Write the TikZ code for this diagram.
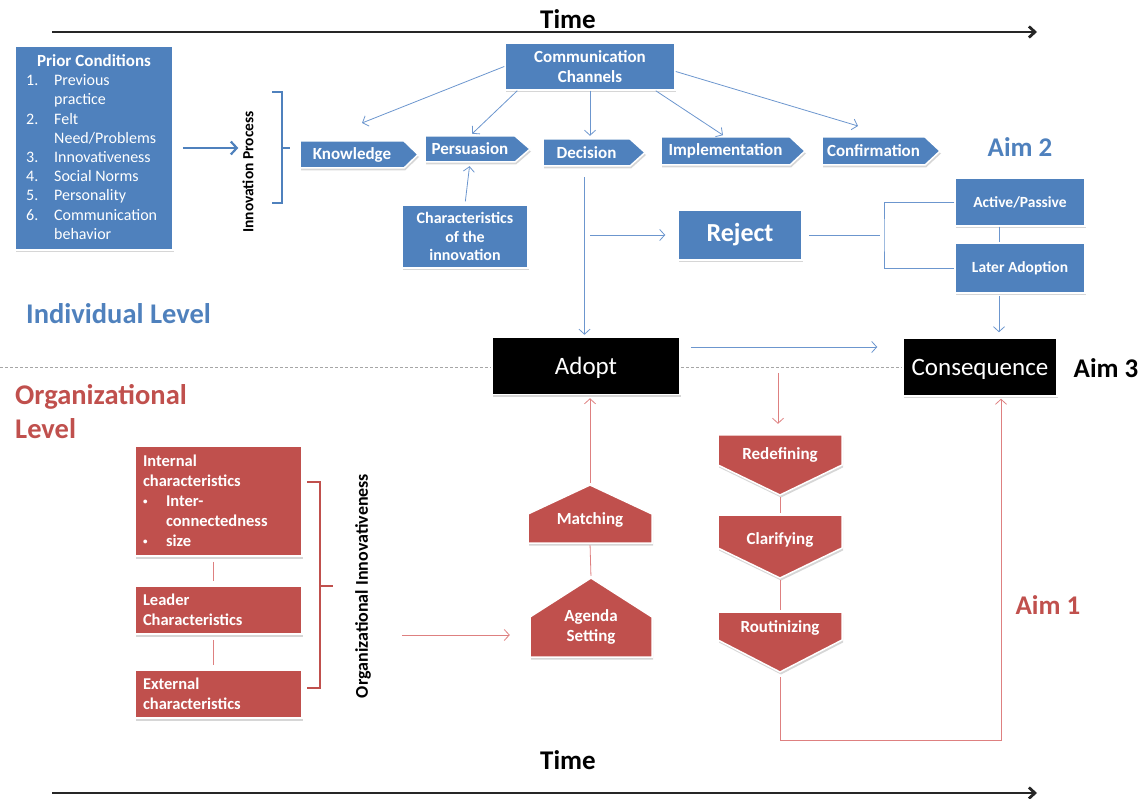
\documentclass[tikz,border=0pt]{standalone}
\usepackage{fontspec}
\setmainfont{Carlito}
\usetikzlibrary{arrows.meta,shadows,calc}
\definecolor{ablue}{RGB}{79,129,189}
\definecolor{ared}{RGB}{192,80,77}
\definecolor{lblue}{RGB}{108,150,206}
\definecolor{lred}{RGB}{222,128,128}
\newcommand\myfs[2]{\fontsize{#1}{#2}\selectfont}
\newcommand\smbul{\makebox[23pt][l]{\raisebox{2.5pt}{\myfs{9}{10}•}}}
% chevron: name, x1, x2 (body end), xtip, ytop, ybot, text
\newcommand\chevron[7]{%
  \path[bshape] (#2,#5) -- (#3,#5) -- (#4,{(#5+#6)/2}) -- (#3,#6) -- (#2,#6) -- cycle;
  \node[shapetxt, minimum width={#3-#2}, minimum height={#6-#5}] (#1) at ({(#2+#3)/2},{(#5+#6)/2}) {#7};
}
% house (pointing up): name, x1, x2, ytip, yshoulder, ybottom, text, texty
\newcommand\houseup[8]{%
  \path[rshape] (#2,#6) -- (#2,#5) -- ({(#2+#3)/2},#4) -- (#3,#5) -- (#3,#6) -- cycle;
  \node[minimum width={#3-#2}, minimum height={#6-#4}, inner sep=0pt] (#1) at ({(#2+#3)/2},{(#4+#6)/2}) {};
  \node[shapetxt] (#1T) at ({(#2+#3)/2},#8) {#7};
}
% house (pointing down): name, x1, x2, ytop, yshoulder, ytip, text, texty
\newcommand\housedown[8]{%
  \path[rshape] (#2,#4) -- (#3,#4) -- (#3,#5) -- ({(#2+#3)/2},#6) -- (#2,#5) -- cycle;
  \node[minimum width={#3-#2}, minimum height={#6-#4}, inner sep=0pt] (#1) at ({(#2+#3)/2},{(#4+#6)/2}) {};
  \node[shapetxt] (#1T) at ({(#2+#3)/2},#8) {#7};
}
\begin{document}
\begin{tikzpicture}[x=1pt,y=-1pt,
  shad/.style={drop shadow={shadow xshift=1pt,shadow yshift=-2.5pt,opacity=0.16,fill=black}},
  bluebox/.style={shad,fill=ablue,draw=white,line width=1.5pt,text=white,font=\bfseries\myfs{16.5}{19.5},align=center,inner sep=0pt},
  redbox/.style={shad,fill=ared,draw=white,line width=1.5pt,text=white,font=\bfseries\myfs{16.5}{20},align=left,inner xsep=8pt,inner ysep=0pt,text width=151pt},
  blackbox/.style={shad,fill=black,draw=white,line width=1.5pt,text=white,font=\myfs{25}{30},inner sep=0pt,text height=18pt,text depth=0pt},
  bshape/.style={shad,fill=ablue,draw=white,line width=1.5pt},
  rshape/.style={shad,fill=ared,draw=white,line width=1.5pt},
  shapetxt/.style={text=white,font=\bfseries\myfs{17}{20},align=center,inner sep=0pt},
  barrow/.style={draw=lblue,line width=0.8pt,-{Straight Barb[length=5pt,width=11pt]}},
  bline/.style={draw=lblue,line width=0.8pt},
  rarrow/.style={draw=lred,line width=0.8pt,-{Straight Barb[length=5pt,width=11pt]}},
  rline/.style={draw=lred,line width=0.8pt},
  timearrow/.style={draw=black!85,line width=2.8pt,-{Straight Barb[length=6pt,width=11pt]}},
  bigtxt/.style={font=\bfseries\myfs{27}{34},inner sep=0pt},
  dashline/.style={draw=gray!70,line width=0.8pt,dash pattern=on 3pt off 2pt},
]
\useasboundingbox (0,0) rectangle (1141,799);

% ---- time axes ----
\node[bigtxt] (time1) at (568,19) {Time};
\coordinate (t1s) at (52,32);
\coordinate (t1e) at (1037,32);
\draw[timearrow] (t1s) -- (t1e);
\node[bigtxt] (time2) at (568,760) {Time};
\coordinate (t2s) at (52,793);
\coordinate (t2e) at (1037,793);
\draw[timearrow] (t2s) -- (t2e);

% ---- prior conditions ----
\node[bluebox, minimum width=158, minimum height=204] (prior) at (94,148) {};
\node[text=white, font=\bfseries\myfs{17}{20}, inner sep=0pt] (priorT) at (94,61) {Prior Conditions};
\node[anchor=north west, text=white, align=left, inner sep=0pt, font=\myfs{16}{19.2}] (priorL) at (26,74.5)
{\makebox[28pt][l]{1.}Previous\\\hspace*{28pt}practice\\
 \makebox[28pt][l]{2.}Felt\\\hspace*{28pt}Need/Problems\\
 \makebox[28pt][l]{3.}Innovativeness\\
 \makebox[28pt][l]{4.}Social Norms\\
 \makebox[28pt][l]{5.}Personality\\
 \makebox[28pt][l]{6.}Communication\\\hspace*{28pt}behavior};

\node[rotate=90, font=\bfseries\myfs{15.5}{18}, inner sep=1pt] (ip) at (248,172) {Innovation Process};
\draw[draw=ablue, line width=2.2pt, -{Straight Barb[length=6pt,width=13pt]}, shorten <=9pt, shorten >=3pt]
  (prior.east) -- (prior.east -| ip.north);
\draw[draw=ablue, line width=2pt] (272,92) -- (282,92) -- (282,203) -- (272,203);
\draw[draw=ablue, line width=2pt] (282,148) -- (290,148);

% ---- communication channels and stages ----
\node[bluebox, font=\bfseries\myfs{17}{20}, minimum width=170, minimum height=47] (comm) at (590,66.5) {Communication\\Channels};
\chevron{know}{300}{404}{418}{141}{168}{Knowledge}
\chevron{pers}{425}{515}{530}{136}{162}{Persuasion}
\chevron{dec}{543}{630}{645}{139}{166}{Decision}
\chevron{impl}{661}{790}{805}{137}{165}{Implementation}
\chevron{conf}{822}{925}{940}{137}{165}{Confirmation}

\coordinate (kIn) at (362,123);
\coordinate (cIn) at (858,126);
\draw[barrow] (comm.west) -- (kIn);
\draw[barrow, shorten >=3pt] ([xshift=13pt]comm.south west) -- (pers.north);
\draw[barrow, shorten >=3pt] (comm.south) -- (comm.south |- dec.north);
\draw[barrow, shorten >=3pt] ([xshift=-20pt]comm.south east) -- (impl.north);
\draw[barrow] ([yshift=-5pt]comm.east) -- (cIn);

\node[bluebox, minimum width=126, minimum height=63, font=\bfseries\myfs{16}{18.5}] (chars) at (465,236.5) {Characteristics\\of the\\innovation};
\draw[barrow, shorten <=3pt, shorten >=4pt] (chars.north) -- (pers.south);

% ---- reject branch ----
\node[bluebox, minimum width=124, minimum height=50, font=\bfseries\myfs{26}{30}] (reject) at (740,235) {Reject};
\coordinate (rejFrom) at (590,235);
\draw[barrow, shorten >=12pt] (rejFrom) -- (reject.west);
\node[bluebox, minimum width=130, minimum height=48, font=\bfseries\myfs{15.5}{18}] (active) at (1020,202) {Active/Passive};
\node[bluebox, minimum width=130, minimum height=50, font=\bfseries\myfs{15.5}{18}] (later) at (1020,268) {Later Adoption};
\coordinate (rbr) at (884,235);
\draw[bline, shorten <=6pt] (reject.east) -- ([xshift=-4pt]rbr);
\draw[bline] (active.west) -| (rbr) |- (later.west);
\draw[bline] ([xshift=-21pt]active.south) -- ([xshift=-21pt]later.north);

\node[text=ablue, bigtxt] (aim2) at (1020,147) {Aim 2};
\node[text=ablue, font=\bfseries\myfs{28.5}{34}, inner sep=0pt] (indiv) at (118.5,314) {Individual Level};

% ---- adopt / consequence ----
\node[blackbox, minimum width=188, minimum height=57] (adopt) at (586,366) {Adopt};
\node[blackbox, minimum width=154, minimum height=58] (cons) at (980,367) {Consequence};
\node[bigtxt] (aim3) at (1106,368) {Aim 3};

\draw[barrow, shorten <=11pt, shorten >=2pt] ([xshift=-2pt]dec.south) -- ([xshift=-2pt]dec.south |- adopt.north);
\draw[barrow, shorten <=2pt, shorten >=5pt] ([xshift=-21pt]later.south) -- ([xshift=-21pt]later.south |- cons.north);
\coordinate (ac) at (0,347);
\draw[barrow, shorten <=10pt, shorten >=25pt] (adopt.east |- ac) -- (cons.west |- ac);

\coordinate (dl0) at (0,367);
\draw[dashline] (dl0) -- (adopt.west |- dl0);
\draw[dashline] (adopt.east |- dl0) -- (cons.west |- dl0);

% ---- organizational level ----
\node[text=ared, font=\bfseries\myfs{28.5}{34}, align=left, inner sep=0pt, anchor=west] (orgl) at (15,412) {Organizational\\Level};

\node[redbox, minimum width=167, minimum height=110] (internal) at (218.5,501)
{Internal\\characteristics\\\smbul Inter-\\\hspace*{23pt}connectedness\\\smbul size};
\node[redbox, minimum width=167, minimum height=48] (leader) at (218.5,610) {Leader\\Characteristics};
\node[redbox, minimum width=167, minimum height=48] (external) at (218.5,694) {External\\characteristics};
\draw[rline, shorten <=5pt, shorten >=4pt] ([xshift=-5pt]internal.south) -- ([xshift=-5pt]leader.north);
\draw[rline, shorten <=5pt, shorten >=4pt] ([xshift=-5pt]leader.south) -- ([xshift=-5pt]external.north);

\draw[draw=ared, line width=2pt] (307,482) -- (320,482) -- (320,688) -- (307,688);
\draw[draw=ared, line width=2pt] (320,586) -- (333,586);
\node[rotate=90, font=\bfseries\myfs{18}{20}, inner sep=0pt] (oi) at (363,586) {Organizational Innovativeness};

\houseup{match}{528}{652}{485}{514}{543}{Matching}{520}
\houseup{agenda}{530}{652}{578}{617}{657}{Agenda\\Setting}{627}
\housedown{redef}{718}{842}{435}{465}{495}{Redefining}{455}
\housedown{clar}{718}{842}{515}{548}{578}{Clarifying}{540}
\housedown{rout}{718}{842}{612}{640}{672}{Routinizing}{628}

\coordinate (oiArr) at (402,635);
\draw[rarrow, shorten >=20pt] (oiArr) -- (oiArr -| agenda.west);
\draw[rline, shorten <=2pt, shorten >=2pt] (agenda.north) -- (match.south);
\draw[rarrow, shorten <=2pt, shorten >=3pt] (match.north) -- (match.north |- adopt.south);

\coordinate (rdIn) at (778,373);
\draw[rarrow, shorten >=11pt] (rdIn) -- (rdIn |- redef.north);
\draw[rline, shorten <=2pt, shorten >=2pt] (redef.south) -- (clar.north);
\draw[rline, shorten <=2pt, shorten >=2pt] (clar.south) -- (rout.north);
\coordinate (rc) at (1001,740);
\draw[rarrow, shorten <=5pt, shorten >=2pt] (rout.south) |- (rc) -- (rc |- cons.south);

\node[text=ared, bigtxt] (aim1) at (1048,605) {Aim 1};
\end{tikzpicture}
\end{document}
